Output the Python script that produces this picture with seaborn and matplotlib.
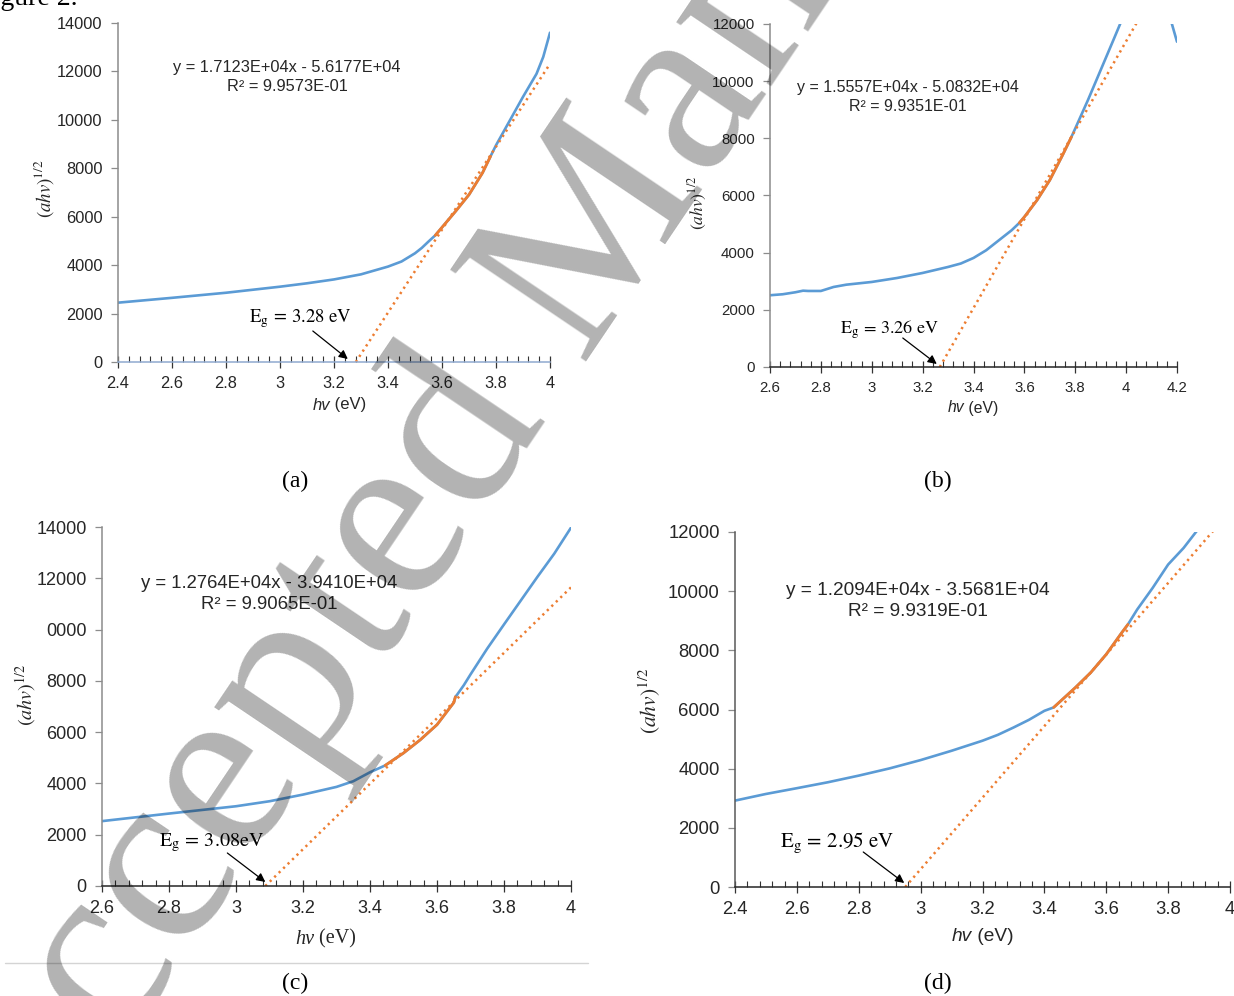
import numpy as np
import pandas as pd
import matplotlib
matplotlib.use("Agg")
import matplotlib.pyplot as plt
from matplotlib.ticker import MultipleLocator, FuncFormatter, FixedLocator, FixedFormatter
from matplotlib.lines import Line2D
import seaborn as sns

# ---------------- data ----------------
panel_names = ["(a)", "(b)", "(c)", "(d)"]

a_x = [2.40, 2.60, 2.80, 3.00, 3.10, 3.20, 3.30, 3.40, 3.45, 3.50, 3.525, 3.55, 3.575, 3.60, 3.65,
       3.70, 3.75, 3.78, 3.80, 3.85, 3.90, 3.95, 3.975, 4.00]
a_y = [2450, 2650, 2860, 3110, 3250, 3410, 3620, 3940, 4150, 4490, 4710, 4975, 5230, 5560, 6220,
       6910, 7810, 8500, 8950, 9950, 10950, 11900, 12600, 13600]

b_x = [2.60, 2.65, 2.70, 2.73, 2.75, 2.80, 2.85, 2.90, 3.00, 3.10, 3.20, 3.30, 3.35, 3.40, 3.45,
       3.50, 3.55, 3.58, 3.60, 3.65, 3.70, 3.75, 3.785, 3.80, 3.85, 3.90, 3.95, 4.00, 4.05, 4.10,
       4.15, 4.18, 4.20]
b_y = [2510, 2545, 2615, 2670, 2660, 2660, 2800, 2880, 2975, 3115, 3290, 3500, 3620, 3815, 4085,
       4435, 4785, 5040, 5250, 5840, 6540, 7410, 8050, 8345, 9340, 10390, 11440, 12500, 13300, 13500,
       13000, 12000, 11380]

c_x = [2.60, 2.80, 3.00, 3.10, 3.20, 3.30, 3.35, 3.40, 3.445, 3.50, 3.55, 3.60, 3.65, 3.655, 3.66,
       3.68, 3.70, 3.75, 3.80, 3.85, 3.90, 3.95, 4.00]
c_y = [2530, 2825, 3110, 3305, 3565, 3865, 4085, 4435, 4700, 5185, 5700, 6290, 7150, 7380, 7460,
       7830, 8250, 9260, 10200, 11130, 12060, 12960, 13975]

d_x = [2.40, 2.50, 2.60, 2.70, 2.80, 2.90, 3.00, 3.10, 3.20, 3.25, 3.30, 3.35, 3.40, 3.43, 3.50,
       3.55, 3.60, 3.65, 3.67, 3.70, 3.75, 3.80, 3.85, 3.89, 3.95]
d_y = [2920, 3145, 3340, 3540, 3765, 4010, 4290, 4605, 4945, 5145, 5390, 5650, 5955, 6070, 6740,
       7250, 7865, 8595, 8875, 9380, 10110, 10900, 11460, 12000, 12700]

series_x = [a_x, b_x, c_x, d_x]
series_y = [a_y, b_y, c_y, d_y]

# fitted (orange) ranges and linear trendline coefficients
fit_start = [3.575, 3.58, 3.445, 3.43]
fit_end = [3.78, 3.785, 3.655, 3.67]
slopes = [1.7123e4, 1.5557e4, 1.2764e4, 1.2094e4]
intercepts = [-5.6177e4, -5.0832e4, -3.9410e4, -3.5681e4]
r_squared = [9.9573e-1, 9.9351e-1, 9.9065e-1, 9.9319e-1]
eg_values = ["3.28", "3.26", "3.08", "2.95"]
eg_units = [" eV", " eV", "eV", " eV"]

x_limits = [(2.4, 4.0), (2.6, 4.2), (2.6, 4.0), (2.4, 4.0)]
y_limits = [(0, 14000), (0, 12000), (0, 14000), (0, 12000)]
c_ytick_labels = ["0", "2000", "4000", "6000", "8000", "0000", "12000", "14000"]

# ---------------- style ----------------
sns.set_theme(style="ticks")
plt.rcParams["font.family"] = ["Liberation Sans", "DejaVu Sans"]
plt.rcParams["mathtext.fontset"] = "stix"

BLUE = "#5B9BD5"
ORANGE = "#ED7D31"
TXT = "#262626"

W, H = 1234, 996
fig = plt.figure(figsize=(W / 100, H / 100), dpi=100)
fig.patch.set_facecolor("white")


def fx(px):
    return px / W


def fy(py):
    return 1 - py / H


# layout per panel (pixel boxes: left, top, right, bottom)
boxes = [(118, 23, 550, 362), (770, 24, 1177, 367), (102, 527, 571, 886), (735, 532, 1230, 887)]
tick_fs = [11.8, 10.8, 13.0, 13.3]
eq_fs = [11.8, 11.5, 13.3, 13.7]
eq_pos = [(0.391, 0.840), (0.339, 0.787), (0.356, 0.814), (0.370, 0.806)]
xlab_split = [(330, 405, 12.0, "sans"), (964, 408, 11.3, "sans"), (314, 939, 14.5, "serif"), (972, 936, 13.8, "sans")]
ylab_pos = [(44, 189, 13.5), (698, 203, 12.5), (26, 695, 14.5), (650, 701, 15.5)]
eg_pos = [(300, 319, 13.5), (889, 330, 13), (212, 843, 14.5), (837, 843, 15)]
arrow_head_off = [(-8, 3), (-3, 3), (0, 4), (-1, 4)]
arrow_tail_off = [(-35, 28), (-34, 26), (-38, 29), (-41, 31)]
caption_pos = [(295, 481), (938, 481), (295, 983), (938, 983)]
left_spine_col = ["#8c8c8c", "#8c8c8c", "#8c8c8c", "#595959"]
bottom_spine_col = ["#8fa9cf", "#262626", "#262626", "#262626"]

for i in range(4):
    l, t, r, b = boxes[i]
    ax = fig.add_axes([fx(l), fy(b), fx(r - l), (b - t) / H])
    ax.set_facecolor("none")

    df = pd.DataFrame({"x": series_x[i], "y": series_y[i]})
    sns.lineplot(data=df, x="x", y="y", ax=ax, color=BLUE, lw=1.9)
    seg = df[(df.x >= fit_start[i]) & (df.x <= fit_end[i])]
    sns.lineplot(data=seg, x="x", y="y", ax=ax, color=ORANGE, lw=2.0)

    x0 = -intercepts[i] / slopes[i]
    x1 = x_limits[i][1]
    tdf = pd.DataFrame({"x": [x0, x1], "y": [0.0, slopes[i] * x1 + intercepts[i]]})
    sns.lineplot(data=tdf, x="x", y="y", ax=ax, color=ORANGE, lw=1.8,
                 linestyle=(0, (0.9, 1.6)))

    ax.set_xlim(*x_limits[i])
    ax.set_ylim(*y_limits[i])
    ax.set_xlabel("")
    ax.set_ylabel("")

    sns.despine(ax=ax)
    ax.spines["left"].set_color(left_spine_col[i])
    ax.spines["bottom"].set_color(bottom_spine_col[i])
    ax.spines["left"].set_linewidth(1.1)
    ax.spines["bottom"].set_linewidth(1.1)

    ax.xaxis.set_major_locator(MultipleLocator(0.2))
    ax.xaxis.set_minor_locator(MultipleLocator(0.04))
    ax.xaxis.set_major_formatter(FuncFormatter(lambda v, p: f"{v:g}"))
    if i == 2:
        ax.yaxis.set_major_locator(FixedLocator(list(range(0, 14001, 2000))))
        ax.yaxis.set_major_formatter(FixedFormatter(c_ytick_labels))
    else:
        ax.yaxis.set_major_locator(MultipleLocator(2000))
        ax.yaxis.set_major_formatter(FuncFormatter(lambda v, p: f"{v:.0f}"))

    ax.tick_params(axis="x", which="major", direction="inout", length=8, width=0.9,
                   color="#333333", labelsize=tick_fs[i], labelcolor=TXT, pad=6, bottom=True)
    ax.tick_params(axis="x", which="minor", direction="in", length=4, width=0.8,
                   color="#333333", bottom=True)
    ax.tick_params(axis="y", which="major", direction="out", length=5, width=0.9,
                   color="#8c8c8c", labelsize=tick_fs[i], labelcolor=TXT, pad=6, left=True)
    ax.tick_params(axis="y", which="minor", left=False)

    # equation of the fit
    eq = f"y = {slopes[i]:.4E}x - {abs(intercepts[i]):.4E}\nR\u00b2 = {r_squared[i]:.4E}"
    ax.text(eq_pos[i][0], eq_pos[i][1], eq, transform=ax.transAxes, ha="center", va="center",
            fontsize=eq_fs[i], color=TXT, linespacing=1.3)

    # arrow pointing to the band gap (x-intercept of the trendline)
    hx, hy = ax.transData.transform((x0, 0))
    head = (hx + arrow_head_off[i][0], hy + arrow_head_off[i][1])
    tail = (head[0] + arrow_tail_off[i][0], head[1] + arrow_tail_off[i][1])
    ax.annotate("", xy=head, xycoords="figure pixels", xytext=tail, textcoords="figure pixels",
                arrowprops=dict(arrowstyle="-|>", color="black", lw=0.9, mutation_scale=13,
                                shrinkA=0, shrinkB=0))

    # Eg label
    ex, ey, efs = eg_pos[i]
    unit = eg_units[i].replace(" ", r"\ ")
    fig.text(fx(ex), fy(ey), r"$\mathrm{E_g}\,=\,\mathrm{" + eg_values[i] + unit + "}$",
             ha="center", va="center", fontsize=efs, color="black")

    # x label
    sx, sy, sfs, fam = xlab_split[i]
    family = ["Liberation Serif"] if fam == "serif" else ["Liberation Sans"]
    fig.text(fx(sx), fy(sy), "hv", ha="right", va="center", fontsize=sfs, style="italic",
             family=family, color=TXT)
    fig.text(fx(sx), fy(sy), " (eV)", ha="left", va="center", fontsize=sfs, family=family, color=TXT)

    # y label
    lx, ly, lfs = ylab_pos[i]
    fig.text(fx(lx), fy(ly), r"$(ahv)^{1/2}$", rotation=90, ha="center", va="center",
             fontsize=lfs, color=TXT)

    # caption
    cx, cy = caption_pos[i]
    fig.text(fx(cx), fy(cy), panel_names[i], ha="center", va="center", fontsize=17,
             family=["Liberation Serif"], color="black")

# page decorations
fig.text(fx(-23), fy(5), "Figure 2.", ha="left", va="baseline", fontsize=20,
         family=["Liberation Serif"], color="black")
fig.add_artist(Line2D([fx(5), fx(588)], [fy(963), fy(963)], color="#d4d4d4", lw=1.0))

# watermark
fig.text(fx(20), fy(1201), "Accepted Manuscript", rotation=56, rotation_mode="anchor",
         ha="left", va="baseline", fontsize=180, family=["Liberation Serif"],
         color="black", alpha=0.30, zorder=20)

fig.savefig("out.png", dpi=100)
